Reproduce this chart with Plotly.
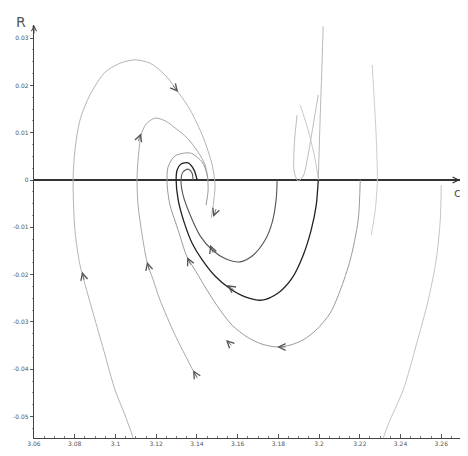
import math
import plotly.graph_objects as go

# ---- axis ticks ----
x_tick_vals = [3.06, 3.08, 3.10, 3.12, 3.14, 3.16, 3.18, 3.20, 3.22, 3.24, 3.26]
x_tick_text = ["3.06", "3.08", "3.1", "3.12", "3.14", "3.16", "3.18", "3.2", "3.22", "3.24", "3.26"]
y_tick_vals = [0.03, 0.02, 0.01, 0.0, -0.01, -0.02, -0.03, -0.04, -0.05]
y_tick_text = ["0.03", "0.02", "0.01", "0", "-0.01", "-0.02", "-0.03", "-0.04", "-0.05"]

# ---- trajectories (c, R) ----
traj_a_c = [3.1087, 3.1047, 3.0998, 3.0949, 3.0900, 3.0865, 3.0826, 3.0801, 3.0792, 3.0801, 3.0826,
            3.0875, 3.0949, 3.1023, 3.1096, 3.1170, 3.1244, 3.1308, 3.1367, 3.1430, 3.1475, 3.1489,
            3.1480, 3.1470]
traj_a_r = [-0.0545, -0.0497, -0.0444, -0.0370, -0.0296, -0.0243, -0.0180, -0.0106, 0.0, 0.0063, 0.0127,
            0.0180, 0.0228, 0.0247, 0.0254, 0.0247, 0.0222, 0.0186, 0.0148, 0.0091, 0.0032, -0.0011,
            -0.0053, -0.0080]

traj_b_c = [3.1401, 3.1367, 3.1293, 3.1219, 3.1185, 3.1155, 3.1131, 3.1111, 3.1106, 3.1111, 3.1126,
            3.1150, 3.1195, 3.1244, 3.1293, 3.1352, 3.1406, 3.1440, 3.1455]
traj_b_r = [-0.0419, -0.0391, -0.0328, -0.0254, -0.0211, -0.0173, -0.0116, -0.0053, 0.0, 0.0042, 0.0095,
            0.0118, 0.0131, 0.0125, 0.0110, 0.0089, 0.0059, 0.0032, 0.0]

traj_e_c = [3.2202, 3.2192, 3.2153, 3.2104, 3.2055, 3.1986, 3.1922, 3.1858, 3.1794, 3.1720, 3.1647,
            3.1573, 3.1514, 3.1450, 3.1396, 3.1352, 3.1308, 3.1268, 3.1254, 3.1258, 3.1293, 3.1367,
            3.1426, 3.1450, 3.1455, 3.1445]
traj_e_r = [0.0, -0.0085, -0.0169, -0.0233, -0.0281, -0.0317, -0.0338, -0.0349, -0.0353, -0.0347, -0.0332,
            -0.0307, -0.0275, -0.0233, -0.0194, -0.0163, -0.0106, -0.0053, -0.0011, 0.0027, 0.0051, 0.0057,
            0.0038, 0.0011, -0.0021, -0.0053]

traj_d_top_c = [3.2020, 3.2015, 3.2005, 3.1996]
traj_d_top_r = [0.0325, 0.0254, 0.0127, 0.0]

traj_d_c = [3.1996, 3.1986, 3.1961, 3.1922, 3.1868, 3.1799, 3.1720, 3.1637, 3.1563, 3.1489, 3.1426,
            3.1376, 3.1337, 3.1308, 3.1298, 3.1303, 3.1322, 3.1357, 3.1386, 3.1401]
traj_d_r = [0.0, -0.0053, -0.0106, -0.0159, -0.0207, -0.0239, -0.0254, -0.0247, -0.0230, -0.0203, -0.0169,
            -0.0133, -0.0089, -0.0042, 0.0, 0.0021, 0.0034, 0.0036, 0.0021, 0.0]

traj_m_c = [3.1794, 3.1789, 3.1770, 3.1735, 3.1676, 3.1612, 3.1543, 3.1475, 3.1416, 3.1367, 3.1332,
            3.1322, 3.1332, 3.1357, 3.1376, 3.1381]
traj_m_r = [0.0, -0.0042, -0.0089, -0.0127, -0.0159, -0.0173, -0.0167, -0.0148, -0.0118, -0.0074, -0.0032,
            0.0, 0.0017, 0.0023, 0.0015, 0.0]

traj_f_c = [3.2600, 3.2595, 3.2575, 3.2536, 3.2477, 3.2413, 3.2349, 3.2315]
traj_f_r = [-0.0011, -0.0085, -0.0169, -0.0254, -0.0349, -0.0444, -0.0507, -0.0545]

traj_g_c = [3.2261, 3.2271, 3.2281, 3.2286, 3.2276, 3.2256]
traj_g_r = [0.0243, 0.0169, 0.0085, 0.0, -0.0063, -0.0116]

traj_h_c = [3.1892, 3.1878, 3.1878, 3.1897, 3.1922, 3.1946, 3.1971, 3.1996]
traj_h_r = [0.0137, 0.0074, 0.0017, -0.0002, 0.0008, 0.0053, 0.0116, 0.0180]

traj_h2_c = [3.1907, 3.1946, 3.1976, 3.1996]
traj_h2_r = [0.0159, 0.0106, 0.0053, 0.0004]

# direction arrows: position and heading (degrees clockwise from up)
arrow_c = [3.1308, 3.0836, 3.1126, 3.1155, 3.1381, 3.1352, 3.1548, 3.1794, 3.1543, 3.1480, 3.1465]
arrow_r = [0.0186, -0.0194, 0.0099, -0.0173, -0.0402, -0.0163, -0.0222, -0.0353, -0.0338, -0.0078, -0.0137]
arrow_angle = [140, -15, 20, -15, -30, -25, -55, 270, -45, 200, -20]

LIGHT = "#b4b4b4"
fig = go.Figure()

def add_line(cs, rs, color, width, dash="solid"):
    fig.add_trace(go.Scatter(x=cs, y=rs, mode="lines",
                             line=dict(color=color, width=width, dash=dash, shape="spline", smoothing=0.8),
                             hoverinfo="skip", showlegend=False))

add_line(traj_a_c, traj_a_r, LIGHT, 1)
add_line(traj_b_c, traj_b_r, "#a8a8a8", 1)
add_line(traj_e_c, traj_e_r, "#9a9a9a", 1)
add_line(traj_f_c, traj_f_r, "#c4c4c4", 1)
add_line(traj_g_c, traj_g_r, "#cccccc", 1)
add_line(traj_h_c, traj_h_r, "#bdbdbd", 1)
add_line(traj_h2_c, traj_h2_r, "#c8c8c8", 1)
add_line(traj_d_top_c, traj_d_top_r, "#b8b8b8", 1)
add_line(traj_m_c, traj_m_r, "#555555", 1.1)
add_line(traj_d_c, traj_d_r, "#222222", 1.3)

x_lo, x_hi = 3.06, 3.2692
y_lo, y_hi = -0.05454, 0.03277

# chevron arrows on trajectories (annotation arrowheads; tail lies along the curve)
annotations = []
for c, r, ang in zip(arrow_c, arrow_r, arrow_angle):
    a = math.radians(ang)
    annotations.append(dict(x=c, y=r, xref="x", yref="y", text="", showarrow=True,
                            ax=-10 * math.sin(a), ay=10 * math.cos(a),
                            arrowhead=5, arrowsize=1.7, arrowwidth=0.8, arrowcolor="#555555"))

annotations += [
    dict(x=x_lo, y=y_hi, xref="x", yref="y", ax=0, ay=10, showarrow=True,
         arrowhead=5, arrowsize=1, arrowwidth=1, arrowcolor="#444444", text=""),
    dict(x=x_hi, y=0, xref="x", yref="y", ax=-10, ay=0, showarrow=True,
         arrowhead=5, arrowsize=1, arrowwidth=1.2, arrowcolor="#333333", text=""),
    dict(x=-0.047, y=1.031, xref="paper", yref="paper", text="R", showarrow=False,
         font=dict(size=14, color="#555555", family="DejaVu Sans")),
    dict(x=1.007, y=0.594, xref="paper", yref="paper", text="c", showarrow=False,
         font=dict(size=12, color="#555555", family="DejaVu Sans")),
]

fig.update_layout(
    template="none",
    width=468, height=456,
    margin=dict(l=26, r=16, t=17, b=26),
    paper_bgcolor="white", plot_bgcolor="white",
    font=dict(family="DejaVu Sans", size=6, color="#555555"),
    xaxis=dict(range=[x_lo, x_hi], tickvals=x_tick_vals, ticktext=x_tick_text,
               showgrid=False, zeroline=False, showline=True, linecolor="#444444", linewidth=1.3,
               ticks="inside", ticklen=4, tickcolor="#555555", tickwidth=1,
               minor=dict(dtick=0.005, tick0=3.06, ticks="inside", ticklen=2, tickcolor="#777777"),
               tickfont=dict(size=6, color="#555555")),
    yaxis=dict(range=[y_lo, y_hi], tickvals=y_tick_vals, ticktext=y_tick_text,
               showgrid=False, zeroline=True, zerolinecolor="#333333", zerolinewidth=1.6,
               showline=True, linecolor="#444444", linewidth=1.3,
               ticks="outside", ticklen=3, tickcolor="#555555",
               minor=dict(dtick=0.0025, ticks="outside", ticklen=1, tickcolor="#999999"),
               tickfont=dict(size=6, color="#555555")),
    annotations=annotations,
)

fig.write_html("out.html")
